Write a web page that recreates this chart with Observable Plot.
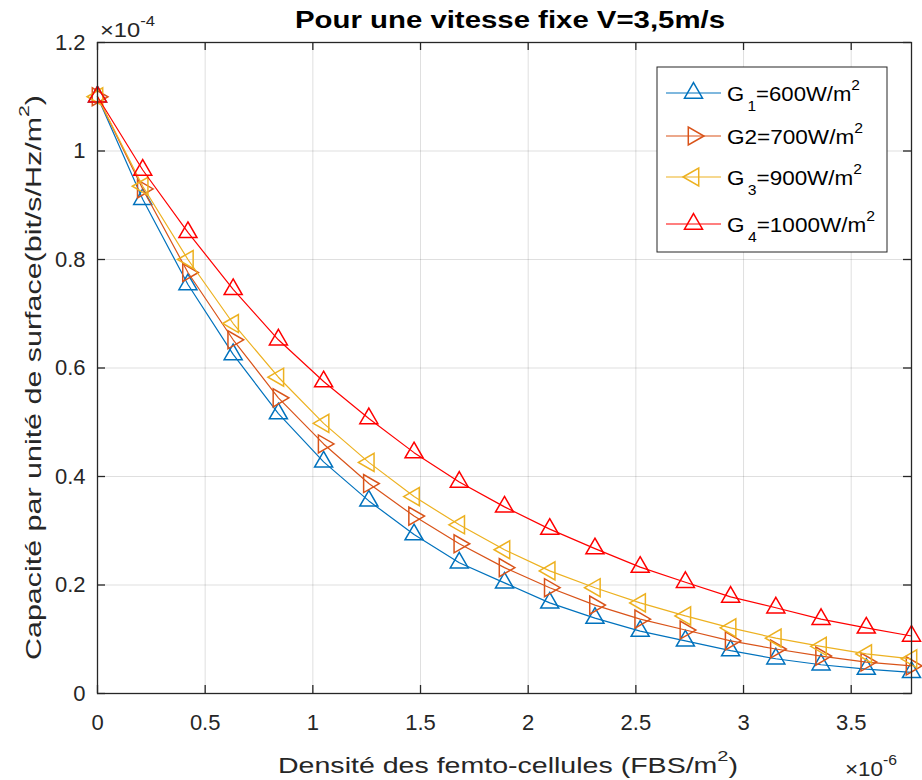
<!DOCTYPE html>
<html>
<head>
<meta charset="utf-8">
<script src="https://cdn.jsdelivr.net/npm/d3@7"></script>
<script src="https://cdn.jsdelivr.net/npm/@observablehq/plot@0.6"></script>
<style>
  html, body { margin: 0; padding: 0; background: #fff; }
  #chart svg { display: block; }
</style>
</head>
<body>
<div id="chart"></div>
<script>
// Density of femto-cells (×10^-6 FBS/m²)
const density = [0, 0.21, 0.42, 0.63, 0.84, 1.05, 1.26, 1.47, 1.68, 1.89, 2.10, 2.31, 2.52, 2.73, 2.94, 3.15, 3.36, 3.57, 3.78];
// Capacity per unit area (×10^-4 bit/s/Hz/m²)
const G1 = [1.10, 0.911, 0.754, 0.625, 0.516, 0.427, 0.355, 0.293, 0.241, 0.204, 0.167, 0.139, 0.115, 0.097, 0.079, 0.064, 0.053, 0.045, 0.039];
const G2 = [1.10, 0.930, 0.776, 0.652, 0.545, 0.460, 0.387, 0.327, 0.276, 0.232, 0.195, 0.163, 0.137, 0.117, 0.097, 0.082, 0.069, 0.058, 0.051];
const G3 = [1.10, 0.935, 0.800, 0.682, 0.583, 0.498, 0.426, 0.363, 0.311, 0.265, 0.226, 0.195, 0.167, 0.143, 0.121, 0.102, 0.087, 0.073, 0.064];
const G4 = [1.10, 0.965, 0.850, 0.745, 0.652, 0.575, 0.507, 0.444, 0.390, 0.344, 0.303, 0.267, 0.233, 0.205, 0.178, 0.158, 0.137, 0.121, 0.106];

const xTicks = [0, 0.5, 1, 1.5, 2, 2.5, 3, 3.5];
const yTicks = [0, 0.2, 0.4, 0.6, 0.8, 1, 1.2];

const seriesNames = ["G1", "G2", "G3", "G4"];
const seriesValues = [G1, G2, G3, G4];
const seriesColors = ["#0072BD", "#D95319", "#EDB120", "#FF0000"];
const seriesRotate = [0, 90, -90, 0];
const legendLabels = [
  [["G", ""], ["1", "sub"], ["=600W/m", ""], ["2", "sup"]],
  [["G2=700W/m", ""], ["2", "sup"]],
  [["G", ""], ["3", "sub"], ["=900W/m", ""], ["2", "sup"]],
  [["G", ""], ["4", "sub"], ["=1000W/m", ""], ["2", "sup"]]
];
const legendWidths = [133, 136, 135, 148];

const W = 922, H = 780;
const mL = 97, mR = 11, mT = 42, mB = 87;
const innerW = W - mL - mR, innerH = H - mT - mB;
const axisColor = "#262626";
const font = "'Liberation Sans', Arial, Helvetica, sans-serif";
const markerR = 6.7;

const tables = seriesValues.map((vals, i) =>
  density.map((d, j) => ({x: d, y: vals[j], s: seriesNames[i]}))
);

const seriesMarks = tables.flatMap((t, i) => [
  Plot.line(t, {x: "x", y: "y", stroke: seriesColors[i], strokeWidth: 1.2}),
  Plot.dot(t, {x: "x", y: "y", symbol: "triangle", r: markerR, stroke: seriesColors[i],
               fill: "none", strokeWidth: 1.5, rotate: seriesRotate[i]})
]);

const fmt = d => String(+d.toFixed(1));

const chart = Plot.plot({
  width: W, height: H,
  marginLeft: mL, marginRight: mR, marginTop: mT, marginBottom: mB,
  style: {fontFamily: font, background: "#fff", color: axisColor},
  x: {domain: [0, 3.78]},
  y: {domain: [0, 1.2]},
  marks: [
    Plot.ruleX(xTicks, {x: d => d, stroke: axisColor, strokeOpacity: 0.15}),
    Plot.ruleY(yTicks, {y: d => d, stroke: axisColor, strokeOpacity: 0.15}),
    ...seriesMarks,
    Plot.frame({stroke: axisColor, strokeWidth: 1.3}),
    Plot.tickX(xTicks, {x: d => d, insetTop: innerH - 8, stroke: axisColor, strokeWidth: 1.3}),
    Plot.tickX(xTicks, {x: d => d, insetBottom: innerH - 8, stroke: axisColor, strokeWidth: 1.3}),
    Plot.tickY(yTicks, {y: d => d, insetRight: innerW - 8, stroke: axisColor, strokeWidth: 1.3}),
    Plot.tickY(yTicks, {y: d => d, insetLeft: innerW - 8, stroke: axisColor, strokeWidth: 1.3}),
    Plot.axisX(xTicks, {tickSize: 0, tickPadding: 21, fontSize: 22, tickFormat: fmt, fill: axisColor, label: null}),
    Plot.axisY(yTicks, {tickSize: 0, tickPadding: 12, fontSize: 22, tickFormat: fmt, fill: axisColor, label: null})
  ]
});

document.getElementById("chart").appendChild(chart);

// Annotations (title, axis labels, exponents, legend)
const svg = d3.select(chart);
const g = svg.append("g").attr("font-family", font).attr("fill", axisColor);

function richText(parent, parts, x, y, size, opts = {}) {
  const t = parent.append("text").attr("x", x).attr("y", y).attr("font-size", size)
    .attr("text-anchor", opts.anchor || "start");
  if (opts.transform) t.attr("transform", opts.transform).attr("x", 0).attr("y", 0);
  if (opts.weight) t.attr("font-weight", opts.weight);
  if (opts.fill) t.attr("fill", opts.fill);
  if (opts.length) t.attr("textLength", opts.length).attr("lengthAdjust", "spacingAndGlyphs");
  let shift = 0;
  for (const [str, kind] of parts) {
    const ts = t.append("tspan").text(str);
    let target = 0, fs = size;
    if (kind === "sup") { target = -0.55 * size; fs = 0.7 * size; }
    if (kind === "sub") { target = 0.5 * size; fs = 0.7 * size; ts.attr("dx", 3); }
    if (kind === "sup" || kind === "sub") ts.attr("font-size", fs);
    if (target !== shift) { ts.attr("dy", target - shift); shift = target; }
  }
  return t;
}

// Title
richText(g, [["Pour une vitesse fixe V=3,5m/s", ""]], 510, 28, 23,
  {anchor: "middle", weight: "bold", fill: "#000", length: 430});

// X label
richText(g, [["Densité des femto-cellules (FBS/m", ""], ["2", "sup"], [")", ""]],
  508, 773, 22, {anchor: "middle", length: 460});

// Y label
richText(g, [["Capacité par unité de surface(bit/s/Hz/m", ""], ["2", "sup"], [")", ""]],
  0, 0, 22, {anchor: "middle", length: 565, transform: `translate(41, 377.5) rotate(-90)`});

// Exponent labels
richText(g, [["×10", ""], ["-4", "sup"]], 100, 37, 20, {length: 55});
richText(g, [["×10", ""], ["-6", "sup"]], 845, 776, 20, {length: 52});

// Legend
const lg = svg.append("g").attr("font-family", font);
lg.append("rect").attr("x", 657).attr("y", 67).attr("width", 230).attr("height", 185)
  .attr("fill", "#fff").attr("stroke", axisColor).attr("stroke-width", 1);
const entryY = [93, 136, 177, 224];
seriesNames.forEach((n, i) => {
  const yy = entryY[i];
  lg.append("line").attr("x1", 666).attr("x2", 721).attr("y1", yy).attr("y2", yy)
    .attr("stroke", seriesColors[i]).attr("stroke-width", 1.2);
  lg.append("path").attr("d", d3.symbol(d3.symbolTriangle, markerR * markerR * Math.PI)())
    .attr("transform", `translate(693.5, ${yy}) rotate(${seriesRotate[i]})`)
    .attr("fill", "none").attr("stroke", seriesColors[i]).attr("stroke-width", 1.5);
  richText(lg, legendLabels[i], 727, yy + 8, 20, {fill: "#000", length: legendWidths[i]});
});
</script>
</body>
</html>
